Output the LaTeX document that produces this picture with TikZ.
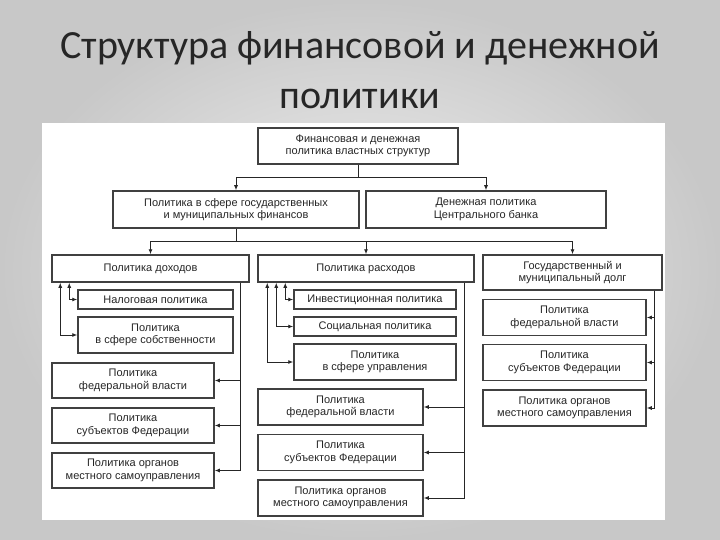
\documentclass[tikz,border=0pt]{standalone}
\usepackage{fontspec}
\setmainfont{Liberation Sans}
\newfontfamily\titlefont{Carlito}
\usetikzlibrary{arrows.meta}
\definecolor{boxline}{HTML}{404040}
\definecolor{slidebg}{HTML}{C8C8C8}
\definecolor{slidemid}{HTML}{F2F2F2}
\tikzset{
  box/.style={draw=boxline,line width=1.5pt,fill=white,align=center,inner sep=0pt,
    font=\fontsize{11}{12.5}\selectfont,text=black!85},
  arr/.style={draw=black!85,line width=0.9pt},
}

\begin{document}
\begin{tikzpicture}[x=1pt,y=-1pt,>={Latex[length=5pt,width=4pt]}]
  \useasboundingbox (0,0) rectangle (720,540);
  \shade[inner color=slidemid,outer color=slidebg] (0,0) rectangle (720,540);
  \fill[white] (42,123) rectangle (665,520);
  \node[font=\titlefont\fontsize{40}{50}\selectfont,text=black!85,align=center] (title) at (360,70)
    {Структура финансовой и денежной\\политики};

  % top levels
  \node[box,minimum width=200pt,minimum height=36pt] (top) at (358,146) {Финансовая и денежная\\политика властных структур};
  \node[box,minimum width=246pt,minimum height=37pt] (fin) at (236,209.5) {Политика в сфере государственных\\и муниципальных финансов};
  \node[box,minimum width=240pt,minimum height=37pt] (bank) at (486,209.5) {Денежная политика\\Центрального банка};

  \node[box,minimum width=197pt,minimum height=27pt] (inc) at (150.5,268.5) {Политика доходов};
  \node[box,minimum width=216pt,minimum height=27pt] (exp) at (366,268.5) {Политика расходов};
  \node[box,minimum width=179pt,minimum height=35pt] (debt) at (572.5,272.5) {Государственный и\\муниципальный долг};

  % income side
  \node[box,minimum width=155pt,minimum height=19pt] (tax) at (155.5,299.5) {Налоговая политика};
  \node[box,minimum width=155pt,minimum height=36pt] (prop) at (155.5,335) {Политика\\в сфере собственности};
  \node[box,minimum width=162pt,minimum height=35pt] (incFed) at (133,380.5) {Политика\\федеральной власти};
  \node[box,minimum width=162pt,minimum height=35pt] (incSub) at (133,425.5) {Политика\\субъектов Федерации};
  \node[box,minimum width=162pt,minimum height=35pt] (incLoc) at (133,470.5) {Политика органов\\местного самоуправления};

  % expense side
  \node[box,minimum width=162pt,minimum height=19pt] (inv) at (375,299.5) {Инвестиционная политика};
  \node[box,minimum width=162pt,minimum height=19pt] (soc) at (375,326.5) {Социальная политика};
  \node[box,minimum width=162pt,minimum height=36pt] (mgmt) at (375,362) {Политика\\в сфере управления};
  \node[box,minimum width=165pt,minimum height=36pt] (expFed) at (340.5,407) {Политика\\федеральной власти};
  \node[box,minimum width=165pt,minimum height=36pt] (expSub) at (340.5,452.5) {Политика\\субъектов Федерации};
  \node[box,minimum width=165pt,minimum height=36pt] (expLoc) at (340.5,498) {Политика органов\\местного самоуправления};

  % debt side
  \node[box,minimum width=163pt,minimum height=36pt] (debtFed) at (564.5,317.5) {Политика\\федеральной власти};
  \node[box,minimum width=163pt,minimum height=36pt] (debtSub) at (564.5,362.5) {Политика\\субъектов Федерации};
  \node[box,minimum width=163pt,minimum height=36pt] (debtLoc) at (564.5,408) {Политика органов\\местного самоуправления};

  % connectors
  \coordinate (j1) at ([yshift=-13pt]top.south);
  \coordinate (j2) at ([yshift=-13pt]fin.south);
  \draw[arr] (top.south) -- (j1);
  \draw[arr,->] (j1) -| (fin.north);
  \draw[arr,->] (j1) -| (bank.north);
  \draw[arr] (fin.south) -- (j2);
  \foreach \n in {inc,exp,debt}
    \draw[arr,->] (j2) -| (\n.north);

  \draw[arr,<->] ([xshift=18pt]inc.south west) |- (tax.west);
  \draw[arr,<->] ([xshift=9pt]inc.south west) |- (prop.west);
  \draw[arr,<->] ([xshift=28pt]exp.south west) |- (inv.west);
  \draw[arr,<->] ([xshift=19pt]exp.south west) |- (soc.west);
  \draw[arr,<->] ([xshift=10pt]exp.south west) |- (mgmt.west);

  \coordinate (incT) at ([xshift=-9pt]inc.south east);
  \coordinate (expT) at ([xshift=-10pt]exp.south east);
  \coordinate (debtT) at ([xshift=-8pt]debt.south east);
  \foreach \n in {incFed,incSub,incLoc}
    \draw[arr,->] (incT) |- (\n.east);
  \foreach \n in {expFed,expSub,expLoc}
    \draw[arr,->] (expT) |- (\n.east);
  \foreach \n in {debtFed,debtSub,debtLoc}
    \draw[arr,->] (debtT) |- (\n.east);
\end{tikzpicture}
\end{document}
